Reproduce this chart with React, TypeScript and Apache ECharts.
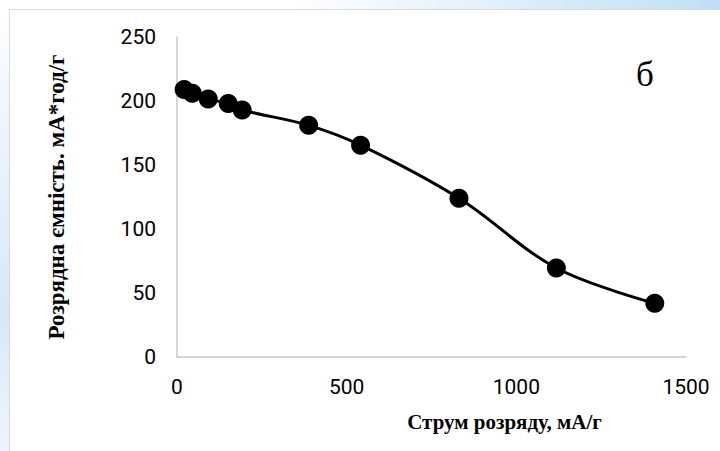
import React, { useEffect, useRef } from "react";
import * as echarts from "echarts";

// Discharge current, mA/g
const currents: number[] = [21, 45, 92, 151, 192, 388, 541, 831, 1118, 1408];
// Discharge capacity, mA*h/g
const capacities: number[] = [209, 206, 201.5, 198, 193, 181, 165.5, 124, 69.5, 42];
const xTicks: number[] = [0, 500, 1000, 1500];
const yTicks: number[] = [0, 50, 100, 150, 200, 250];

const xTitle = "Струм розряду, мА/г";
const yTitle = "Розрядна ємність. мА*год/г";
const panelLabel = "б";

export default function App() {
  const ref = useRef<HTMLDivElement>(null);
  useEffect(() => {
    if (!ref.current) return;
    const chart = echarts.init(ref.current, null, { renderer: "svg" });
    const data = currents.map((c, i) => [c, capacities[i]]);
    chart.setOption({
      animation: false,
      backgroundColor: "transparent",
      graphic: [
        {
          type: "rect",
          z: -10,
          shape: { x: 9.5, y: 9.5, width: 720, height: 450 },
          style: { fill: "#ffffff", stroke: "#d9d9d9", lineWidth: 1 },
        },
        {
          type: "text",
          left: 636,
          top: 57,
          style: {
            text: panelLabel,
            font: "35px 'Liberation Serif', 'DejaVu Serif', serif",
            fill: "#000000",
          },
        },
      ],
      grid: { left: 177, top: 37, right: 34, bottom: 94 },
      xAxis: {
        type: "value",
        min: xTicks[0],
        max: xTicks[xTicks.length - 1],
        interval: 500,
        name: xTitle,
        nameLocation: "middle",
        nameGap: 54,
        nameTextStyle: {
          fontFamily: "'Liberation Serif', serif",
          fontWeight: "bold",
          fontSize: 21,
          color: "#000000",
          padding: [0, 0, 0, 146],
        },
        axisLine: { show: true, lineStyle: { color: "#c8c8c8", width: 1.5 } },
        axisTick: { show: false },
        splitLine: { show: false },
        axisLabel: {
          margin: 19,
          fontFamily: "Roboto, sans-serif",
          fontSize: 21,
          color: "#000000",
          formatter: (v: number) => String(v),
        },
      },
      yAxis: {
        type: "value",
        min: yTicks[0],
        max: yTicks[yTicks.length - 1],
        interval: 50,
        name: yTitle,
        nameLocation: "middle",
        nameGap: 109,
        nameRotate: 90,
        nameTextStyle: {
          fontFamily: "'Liberation Serif', serif",
          fontWeight: "bold",
          fontSize: 23,
          color: "#000000",
          padding: [0, 0, 0, 0],
        },
        axisLine: { show: true, lineStyle: { color: "#c8c8c8", width: 1.5 } },
        axisTick: { show: false },
        splitLine: { show: false },
        axisLabel: {
          margin: 21,
          fontFamily: "Roboto, sans-serif",
          fontSize: 21,
          color: "#000000",
          formatter: (v: number) => String(v),
        },
      },
      series: [
        {
          type: "line",
          data,
          smooth: 0.35,
          symbol: "circle",
          symbolSize: 19,
          lineStyle: { color: "#000000", width: 3 },
          itemStyle: { color: "#000000" },
        },
      ],
    });
    return () => chart.dispose();
  }, []);
  return (
    <div
      style={{
        position: "absolute",
        left: 0,
        top: 0,
        width: 720,
        height: 451,
        background:
          "linear-gradient(to right, rgba(255,255,255,1) 0%, rgba(255,255,255,1) 40%, #bfdff6 100%) top / 100% 12px no-repeat, linear-gradient(to bottom, #ffffff 0%, #e3effa 45%, #d6e9f8 70%, #eef5fc 100%) left / 12px 100% no-repeat, #ffffff",
      }}
    >
      <div ref={ref} style={{ width: 720, height: 451 }} />
    </div>
  );
}
